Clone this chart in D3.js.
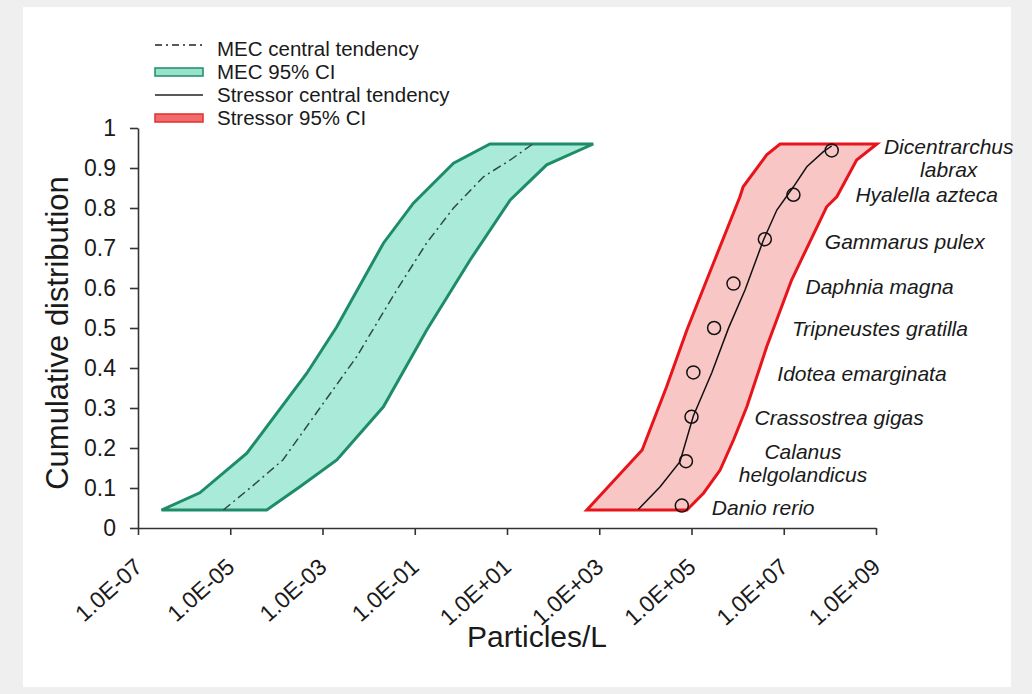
<!DOCTYPE html>
<html>
<head>
<meta charset="utf-8">
<script src="https://cdn.jsdelivr.net/npm/d3@7"></script>
<style>
body { margin: 0; background: #efefef; }
text { font-family: "Liberation Sans", Arial, sans-serif; fill: #1a1a1a; }
</style>
</head>
<body>
<div id="vis-container"></div>
<script>
// values are [log10(Particles/L), cumulative distribution]
var mecLeft = [[-6.49,0.045],[-5.66,0.088],[-4.64,0.187],[-3.34,0.387],[-2.69,0.503],[-1.68,0.712],[-1.03,0.812],[-0.16,0.912],[0.63,0.96]];
var mecRight = [[2.87,0.96],[1.86,0.908],[1.07,0.82],[0.2,0.67],[-0.74,0.495],[-1.68,0.303],[-2.69,0.17],[-3.49,0.103],[-4.21,0.045]];
var mecCentral = [[-5.15,0.045],[-4.57,0.1],[-3.86,0.17],[-3.13,0.288],[-2.26,0.428],[-1.39,0.595],[-0.74,0.713],[-0.16,0.8],[0.49,0.878],[1.07,0.92],[1.56,0.96]];

var stressLeft = [[2.73,0.045],[3.93,0.195],[4.46,0.353],[4.9,0.495],[5.33,0.62],[6.05,0.828],[6.12,0.853],[6.63,0.933],[6.92,0.96]];
var stressRight = [[9.02,0.96],[8.58,0.92],[8.15,0.828],[7.93,0.803],[7.17,0.62],[6.63,0.453],[6.2,0.303],[5.91,0.22],[5.62,0.145],[5.26,0.087],[4.9,0.045]];
var stressCentral = [[3.85,0.047],[4.32,0.103],[4.75,0.166],[5.04,0.28],[5.44,0.388],[5.8,0.499],[6.16,0.595],[6.56,0.72],[6.85,0.795],[7.21,0.853],[7.5,0.903],[7.86,0.941],[8.04,0.955]];

var species = ["Danio rerio","Calanus helgolandicus","Crassostrea gigas","Idotea emarginata","Tripneustes gratilla","Daphnia magna","Gammarus pulex","Hyalella azteca","Dicentrarchus labrax"];
var speciesLog = [4.79, 4.88, 5.0, 5.04, 5.49, 5.91, 6.59, 7.21, 8.04];
var speciesP = [0.056, 0.167, 0.278, 0.389, 0.5, 0.611, 0.722, 0.833, 0.944];

var xTickValues = [1e-7, 1e-5, 1e-3, 1e-1, 1e1, 1e3, 1e5, 1e7, 1e9];
var xTickLabels = ["1.0E-07","1.0E-05","1.0E-03","1.0E-01","1.0E+01","1.0E+03","1.0E+05","1.0E+07","1.0E+09"];
var yTickValues = [0, 0.1, 0.2, 0.3, 0.4, 0.5, 0.6, 0.7, 0.8, 0.9, 1];
var yTickLabels = ["0","0.1","0.2","0.3","0.4","0.5","0.6","0.7","0.8","0.9","1"];

var legendLabels = ["MEC central tendency","MEC 95% CI","Stressor central tendency","Stressor 95% CI"];

var svg = d3.select("#vis-container").append("svg")
    .attr("width", 1032)
    .attr("height", 694);

svg.append("rect").attr("width", 1032).attr("height", 694).attr("fill", "#efefef");
svg.append("rect").attr("x", 23).attr("y", 7).attr("width", 988).attr("height", 680).attr("fill", "#fff");

var x = d3.scaleLog().domain([1e-7, 1e9]).range([138, 876]);
var y = d3.scaleLinear().domain([0, 1]).range([528, 128]);

var line = d3.line()
    .x(function(d) { return x(Math.pow(10, d[0])); })
    .y(function(d) { return y(d[1]); });

// bands
svg.append("path")
    .attr("d", line(mecLeft.concat(mecRight)) + "Z")
    .attr("fill", "#a9ebd8")
    .attr("stroke", "#1e8c68")
    .attr("stroke-width", 3);

svg.append("path")
    .attr("d", line(mecCentral))
    .attr("fill", "none")
    .attr("stroke", "#2e4a40")
    .attr("stroke-width", 1.5)
    .attr("stroke-dasharray", "9,4,2,4");

svg.append("path")
    .attr("d", line(stressLeft.concat(stressRight)) + "Z")
    .attr("fill", "#f9c6c6")
    .attr("stroke", "#e8141b")
    .attr("stroke-width", 3);

svg.append("path")
    .attr("d", line(stressCentral))
    .attr("fill", "none")
    .attr("stroke", "#111")
    .attr("stroke-width", 1.5);

svg.selectAll(".pt")
    .data(species)
    .enter().append("circle")
    .attr("class", "pt")
    .attr("cx", function(d, i) { return x(Math.pow(10, speciesLog[i])); })
    .attr("cy", function(d, i) { return y(speciesP[i]); })
    .attr("r", 6.5)
    .attr("fill", "none")
    .attr("stroke", "#111")
    .attr("stroke-width", 1.5);

// label offsets from the circle, in px
var labelDx = [30, 117, 63, 84, 78, 72, 60, 62, 117];
var labelMid = [false, true, false, false, false, false, false, false, true];
var labelDy = [2, 2, 1, 1, 1, 3, 2, 0, 8];

species.forEach(function(name, i) {
    var cx = x(Math.pow(10, speciesLog[i])) + labelDx[i];
    var cy = y(speciesP[i]) + labelDy[i];
    var t = svg.append("text")
        .attr("font-size", "21px")
        .attr("font-style", "italic")
        .attr("text-anchor", labelMid[i] ? "middle" : "start");
    if (labelMid[i]) {
        var parts = name.split(" ");
        t.append("tspan").attr("x", cx).attr("y", cy - 11.5).attr("dy", "0.35em").text(parts[0]);
        t.append("tspan").attr("x", cx).attr("y", cy + 11.5).attr("dy", "0.35em").text(parts[1]);
    } else {
        t.attr("x", cx).attr("y", cy).attr("dy", "0.35em").text(name);
    }
});

// axes
var yAxis = svg.append("g")
    .attr("transform", "translate(138,0)")
    .call(d3.axisLeft(y).tickValues(yTickValues)
        .tickFormat(function(d, i) { return yTickLabels[i]; })
        .tickSize(8).tickSizeOuter(0).tickPadding(14));

var xAxis = svg.append("g")
    .attr("transform", "translate(0,528)")
    .call(d3.axisBottom(x).tickValues(xTickValues)
        .tickFormat(function(d, i) { return xTickLabels[i]; })
        .tickSize(7).tickSizeOuter(0));

xAxis.selectAll("text")
    .attr("x", 0)
    .attr("y", 35)
    .attr("dy", "0.35em")
    .attr("transform", "rotate(-42,0,35)")
    .style("text-anchor", "end");

[yAxis, xAxis].forEach(function(a) {
    a.selectAll("path, line").attr("stroke", "#333").attr("stroke-width", 1.6);
    a.selectAll("text").attr("font-size", "23px").attr("fill", "#1a1a1a");
});

svg.append("text")
    .attr("transform", "translate(68,333) rotate(-90)")
    .attr("text-anchor", "middle")
    .attr("font-size", "31px")
    .text("Cumulative distribution");

svg.append("text")
    .attr("x", 537)
    .attr("y", 647)
    .attr("text-anchor", "middle")
    .attr("font-size", "30px")
    .text("Particles/L");

// legend
var legend = svg.append("g");
legendLabels.forEach(function(label, i) {
    var base = 56 + i * 23;
    var mid = base - 7;
    if (i == 0 || i == 2) {
        legend.append("line")
            .attr("x1", 155).attr("x2", 203)
            .attr("y1", i == 0 ? mid - 4 : mid).attr("y2", i == 0 ? mid - 4 : mid)
            .attr("stroke", "#222")
            .attr("stroke-width", 1.6)
            .attr("stroke-dasharray", i == 0 ? "7,4,2,4" : null);
    } else {
        legend.append("rect")
            .attr("x", 155).attr("y", mid - 4)
            .attr("width", 48).attr("height", 8)
            .attr("fill", i == 1 ? "#98e2cc" : "#f36a6a")
            .attr("stroke", i == 1 ? "#1e8c68" : "#e03030")
            .attr("stroke-width", 1.5);
    }
    legend.append("text")
        .attr("x", 217)
        .attr("y", base)
        .attr("font-size", "20.5px")
        .text(label);
});
</script>
</body>
</html>
